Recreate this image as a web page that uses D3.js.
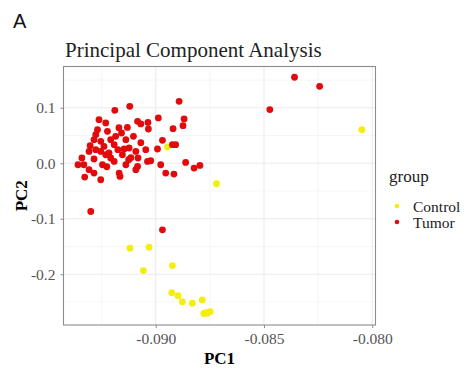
<!DOCTYPE html>
<html>
<head>
<meta charset="utf-8">
<script src="https://cdn.jsdelivr.net/npm/d3@7"></script>
<style>
  html, body { margin: 0; padding: 0; background: #fff; }
  svg { display: block; }
</style>
</head>
<body>
<div id="chart"></div>
<script>
/*
 * Group names and colours.
 */
var groups = ['Control', 'Tumor'];
var groupColors = ['#f4ee0e', '#e20a0a'];
/*
 * Control samples, [PC1, PC2].
 */
var controlPoints = [
    [-0.08946, 0.0292], [-0.08719, -0.0370], [-0.08048, 0.0605],
    [-0.09119, -0.1531], [-0.09031, -0.1513], [-0.09057, -0.1935],
    [-0.08923, -0.1845], [-0.08926, -0.2332], [-0.08897, -0.2386],
    [-0.08877, -0.2495], [-0.08831, -0.2523], [-0.08785, -0.2464],
    [-0.08769, -0.2693], [-0.08749, -0.2675], [-0.08761, -0.2704],
    [-0.08778, -0.2708]
];
/*
 * Tumor samples, [PC1, PC2].
 */
var tumorPoints = [
    [-0.08892, 0.1115], [-0.09189, 0.0953], [-0.09120, 0.1025], [-0.09262, 0.0785],
    [-0.09231, 0.0726], [-0.09269, 0.0605], [-0.09223, 0.0574], [-0.09084, 0.0755],
    [-0.09069, 0.0708], [-0.09036, 0.0736], [-0.09034, 0.0617], [-0.08988, 0.0816],
    [-0.08869, 0.0798], [-0.08874, 0.0677], [-0.08920, 0.0623], [-0.09131, 0.0646],
    [-0.09158, 0.0545], [-0.09185, 0.0484], [-0.09103, 0.0484], [-0.09208, 0.0424],
    [-0.09285, 0.0424], [-0.09254, 0.0394], [-0.09303, 0.0316], [-0.09239, 0.0303],
    [-0.09192, 0.0334], [-0.09138, 0.0424], [-0.09123, 0.0274], [-0.08969, 0.0412],
    [-0.08923, 0.0334], [-0.08908, 0.0334], [-0.08992, 0.0256], [-0.09308, 0.0213],
    [-0.09254, 0.0213], [-0.09216, 0.0184], [-0.09146, 0.0256], [-0.09092, 0.0213],
    [-0.09154, 0.0153], [-0.09341, 0.0094], [-0.09285, 0.0076], [-0.09208, 0.0094],
    [-0.09192, 0.0032], [-0.09082, 0.0094], [-0.09038, 0.0032], [-0.09023, 0.0045],
    [-0.09246, -0.0027], [-0.09359, -0.0027], [-0.09084, -0.0058], [-0.08977, -0.0027],
    [-0.08862, 0.0014], [-0.08823, -0.0087], [-0.08796, -0.0040], [-0.09308, -0.0117],
    [-0.09169, -0.0177], [-0.09285, -0.0177], [-0.09092, -0.0117], [-0.08954, -0.0177],
    [-0.08916, -0.0195], [-0.09328, -0.0249], [-0.09254, -0.0298], [-0.09165, -0.0238],
    [-0.09300, -0.0870], [-0.08969, -0.1200], [-0.08473, 0.0966], [-0.08359, 0.1549],
    [-0.08243, 0.1386], [-0.09277, 0.0244], [-0.09231, 0.0153], [-0.09175, 0.0244],
    [-0.09115, 0.0099], [-0.09138, -0.0027], [-0.09046, 0.0244], [-0.09332, -0.0027],
    [-0.09069, 0.0370], [-0.09170, 0.0641], [-0.09226, -0.0063], [-0.09277, 0.0514],
    [-0.09125, 0.0063]
];
/*
 * Axis ticks.
 */
var xTicks = [-0.090, -0.085, -0.080];
var xMinorTicks = [-0.0925, -0.0875, -0.0825];
var yTicks = [0.1, 0.0, -0.1, -0.2];
var yMinorTicks = [0.15, 0.05, -0.05, -0.15, -0.25];

/*
 * Chart dimensions.
 */
var width = 473, height = 372;
var panel = { left: 63.5, top: 66.5, right: 375.5, bottom: 325 };

var svg = d3.select('#chart').append('svg')
    .attr('width', width)
    .attr('height', height);

var x = d3.scaleLinear()
    .domain([-0.09426, -0.07985])
    .range([panel.left, panel.right]);
var y = d3.scaleLinear()
    .domain([0.1743, -0.2915])
    .range([panel.top, panel.bottom]);

var serif = '"Liberation Serif", "Times New Roman", serif';

/*
 * Panel background and grid.
 */
svg.append('rect')
    .attr('x', panel.left).attr('y', panel.top)
    .attr('width', panel.right - panel.left)
    .attr('height', panel.bottom - panel.top)
    .attr('fill', '#fff');

var grid = svg.append('g');
grid.selectAll('.xminor').data(xMinorTicks).enter().append('line')
    .attr('x1', d => x(d)).attr('x2', d => x(d))
    .attr('y1', panel.top).attr('y2', panel.bottom)
    .attr('stroke', '#f4f4f4').attr('stroke-width', 0.8);
grid.selectAll('.yminor').data(yMinorTicks).enter().append('line')
    .attr('y1', d => y(d)).attr('y2', d => y(d))
    .attr('x1', panel.left).attr('x2', panel.right)
    .attr('stroke', '#f4f4f4').attr('stroke-width', 0.8);
grid.selectAll('.xmajor').data(xTicks).enter().append('line')
    .attr('x1', d => x(d)).attr('x2', d => x(d))
    .attr('y1', panel.top).attr('y2', panel.bottom)
    .attr('stroke', '#ebebeb').attr('stroke-width', 1.1);
grid.selectAll('.ymajor').data(yTicks).enter().append('line')
    .attr('y1', d => y(d)).attr('y2', d => y(d))
    .attr('x1', panel.left).attr('x2', panel.right)
    .attr('stroke', '#ebebeb').attr('stroke-width', 1.1);

/*
 * Points: controls first, tumors on top.
 */
svg.append('g').selectAll('circle').data(controlPoints).enter().append('circle')
    .attr('cx', d => x(d[0])).attr('cy', d => y(d[1]))
    .attr('r', 3.4).attr('fill', groupColors[0]);
svg.append('g').selectAll('circle').data(tumorPoints).enter().append('circle')
    .attr('cx', d => x(d[0])).attr('cy', d => y(d[1]))
    .attr('r', 3.4).attr('fill', groupColors[1]);

/*
 * Panel border.
 */
svg.append('rect')
    .attr('x', panel.left).attr('y', panel.top)
    .attr('width', panel.right - panel.left)
    .attr('height', panel.bottom - panel.top)
    .attr('fill', 'none')
    .attr('stroke', '#8c8c8c').attr('stroke-width', 1.1);

/*
 * Axes.
 */
var xAxis = svg.append('g')
    .attr('transform', 'translate(0,' + panel.bottom + ')')
    .call(d3.axisBottom(x).tickValues(xTicks).tickSize(3).tickPadding(5)
        .tickFormat(d => d3.format('.3f')(d).replace('−', '-')));
var yAxis = svg.append('g')
    .attr('transform', 'translate(' + panel.left + ',0)')
    .call(d3.axisLeft(y).tickValues(yTicks).tickSize(3).tickPadding(5)
        .tickFormat(d => d3.format('.1f')(d).replace('−', '-')));

[xAxis, yAxis].forEach(function(axis) {
    axis.attr('font-family', serif).attr('font-size', 15.5);
    axis.select('.domain').remove();
    axis.selectAll('line').attr('stroke', '#8c8c8c');
    axis.selectAll('text').attr('fill', '#555');
});

/*
 * Titles.
 */
svg.append('text')
    .attr('x', 13).attr('y', 28)
    .attr('font-family', '"Liberation Sans", Arial, sans-serif')
    .attr('font-size', 20)
    .attr('fill', '#111')
    .text('A');
svg.append('text')
    .attr('x', panel.left + 1.5).attr('y', 57)
    .attr('font-family', serif)
    .attr('font-size', 21)
    .attr('fill', '#222')
    .text('Principal Component Analysis');
svg.append('text')
    .attr('x', (panel.left + panel.right) / 2).attr('y', 364)
    .attr('text-anchor', 'middle')
    .attr('font-family', serif)
    .attr('font-size', 17)
    .attr('font-weight', 'bold')
    .text('PC1');
svg.append('text')
    .attr('transform', 'translate(27,' + (panel.top + panel.bottom) / 2 + ') rotate(-90)')
    .attr('text-anchor', 'middle')
    .attr('font-family', serif)
    .attr('font-size', 17)
    .attr('font-weight', 'bold')
    .text('PC2');

/*
 * Legend.
 */
var legend = svg.append('g').attr('transform', 'translate(389,0)');
legend.append('text')
    .attr('x', 0).attr('y', 182)
    .attr('font-family', serif)
    .attr('font-size', 17)
    .attr('fill', '#222')
    .text('group');
var items = legend.selectAll('.item').data(groups).enter().append('g')
    .attr('transform', (d, i) => 'translate(0,' + (206 + i * 16) + ')');
items.append('circle')
    .attr('cx', 8).attr('cy', 0).attr('r', 2.3)
    .attr('fill', (d, i) => groupColors[i]);
items.append('text')
    .attr('x', 24).attr('y', 6)
    .attr('font-family', serif)
    .attr('font-size', 15.5)
    .attr('fill', '#222')
    .text(d => d);
</script>
</body>
</html>
